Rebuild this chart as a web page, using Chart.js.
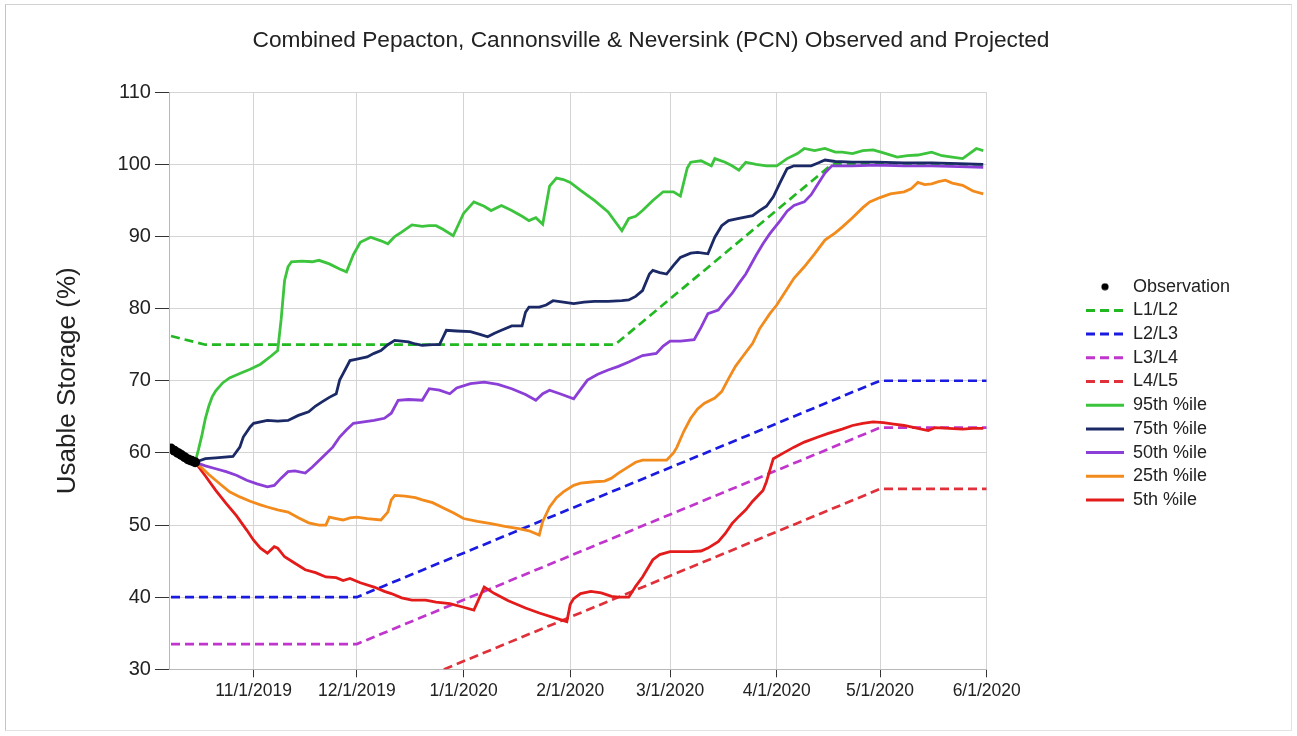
<!DOCTYPE html>
<html><head><meta charset="utf-8">
<style>
html,body{margin:0;padding:0;background:#fff;}
#wrap{position:relative;width:1297px;height:736px;overflow:hidden;}
#frame{position:absolute;left:5px;top:4px;width:1285px;height:725px;border:1px solid #e3e3e3;border-left-color:#c4c4c4;border-top-color:#d2d2d2;pointer-events:none;}
canvas{display:block;}
</style>
<script src="https://cdn.jsdelivr.net/npm/chart.js@4.4.1/dist/chart.umd.min.js"></script>
</head><body>
<div id="wrap"><canvas id="c" width="1297" height="736"></canvas><div id="frame"></div></div>
<script>
// Day numbers count from 10/1/2019 = day 0
const tickDays = [31, 61, 92, 123, 152, 183, 213, 244];
const tickLabels = ['11/1/2019','12/1/2019','1/1/2020','2/1/2020','3/1/2020','4/1/2020','5/1/2020','6/1/2020'];

const obsDays = [7, 8, 9, 10, 11, 12, 13, 14];
const obsVals = [60.6, 60.3, 60.0, 59.7, 59.4, 59.1, 58.9, 58.7];

const l1l2Days = [7, 17, 136, 199, 244];
const l1l2Vals = [76.2, 75.0, 75.0, 100.0, 100.0];
const l2l3Days = [7, 61, 213, 244];
const l2l3Vals = [40.0, 40.0, 70.0, 70.0];
const l3l4Days = [7, 61, 213, 244];
const l3l4Vals = [33.5, 33.5, 63.5, 63.5];
const l4l5Days = [7, 61, 213, 244];
const l4l5Vals = [25.0, 25.0, 55.0, 55.0];

const p95Days = [14,15,16,17,18,19,20,22,24,27,30,33,36,38,39,40,41,42,45,48,50,53,56,58,60,62,65,68,70,72,74,77,80,82,84,86,89,92,95,98,100,103,106,109,111,113,115,117,119,121,123,126,130,134,138,140,142,144,147,150,153,155,157,158,161,164,165,168,170,172,174,177,180,183,186,189,191,194,197,200,202,205,208,211,214,218,221,224,228,231,234,237,239,241,243];
const p95Vals = [58.7,60.5,62.5,64.8,66.5,67.8,68.6,69.7,70.4,71.0,71.6,72.3,73.4,74.2,78.5,83.9,85.8,86.5,86.6,86.5,86.7,86.2,85.5,85.1,87.5,89.2,89.9,89.4,89.0,90.0,90.6,91.6,91.4,91.5,91.5,91.0,90.1,93.2,94.8,94.2,93.6,94.3,93.6,92.8,92.2,92.6,91.7,97.0,98.1,97.9,97.5,96.4,95.0,93.4,90.8,92.5,92.8,93.6,95.0,96.2,96.2,95.6,99.5,100.3,100.5,99.8,100.8,100.3,99.8,99.2,100.3,100.0,99.8,99.8,100.8,101.5,102.2,101.9,102.2,101.7,101.7,101.5,101.9,102.0,101.6,101.0,101.2,101.3,101.7,101.2,101.0,100.8,101.5,102.2,101.9];

const p75Days = [14,17,20,25,27,28,30,31,35,38,41,44,47,49,51,53,55,56,57,59,61,64,66,68,70,72,74,76,78,80,83,85,86,87,90,94,97,99,101,103,106,109,110,111,114,116,118,121,124,127,130,134,138,140,142,144,146,147,149,151,153,155,158,160,163,165,167,169,172,176,178,180,182,184,186,188,191,193,195,197,200,205,212,220,228,236,243];
const p75Vals = [58.7,59.2,59.3,59.5,60.8,62.2,63.6,64.1,64.5,64.4,64.5,65.2,65.7,66.5,67.1,67.7,68.2,70.1,71.0,72.8,73.0,73.3,73.8,74.2,75.0,75.6,75.5,75.4,75.1,74.9,75.0,75.0,76.0,77.0,76.9,76.8,76.4,76.1,76.6,77.0,77.6,77.6,79.5,80.2,80.2,80.5,81.1,80.9,80.7,80.9,81.0,81.0,81.1,81.2,81.7,82.5,84.8,85.3,85.0,84.8,86.0,87.1,87.7,87.8,87.6,89.9,91.5,92.2,92.5,92.9,93.6,94.2,95.5,97.5,99.4,99.8,99.8,99.8,100.2,100.6,100.4,100.3,100.3,100.2,100.2,100.1,100.0];

const p50Days = [14,17,20,23,26,29,32,35,37,39,41,43,46,48,51,54,56,58,60,63,66,69,71,73,76,80,82,85,88,90,94,98,102,106,110,113,115,117,120,124,126,128,131,134,137,140,144,148,150,152,155,159,161,163,166,168,170,172,174,177,179,181,184,186,188,191,193,195,197,199,205,212,220,228,236,243];
const p50Vals = [58.7,58.2,57.8,57.4,56.9,56.2,55.7,55.3,55.5,56.5,57.4,57.5,57.2,58.0,59.4,60.8,62.2,63.2,64.1,64.3,64.5,64.8,65.5,67.3,67.4,67.3,68.9,68.7,68.2,69.0,69.6,69.8,69.5,68.9,68.1,67.3,68.2,68.7,68.2,67.5,68.8,70.1,70.9,71.5,72.0,72.6,73.5,73.8,74.8,75.5,75.5,75.7,77.4,79.3,79.8,81.0,82.1,83.5,84.8,87.4,89.0,90.4,92.2,93.5,94.3,94.8,95.8,97.3,98.8,99.8,99.8,99.9,99.8,99.8,99.7,99.6];

const p25Days = [14,16,18,21,24,27,30,33,35,38,41,44,47,50,52,53,55,57,59,61,64,68,70,71,72,75,78,80,83,86,89,92,96,100,104,108,111,114,115,117,119,121,124,126,130,133,135,137,140,142,144,148,151,153,154,156,158,160,162,165,167,169,171,173,176,178,181,183,185,188,191,194,197,200,202,205,208,210,213,216,220,222,224,226,228,230,232,234,237,240,243];
const p25Vals = [58.7,57.9,57.0,55.8,54.6,53.9,53.3,52.8,52.5,52.1,51.8,51.0,50.3,50.0,50.0,51.1,50.9,50.7,51.0,51.1,50.9,50.7,51.8,53.5,54.1,54.0,53.8,53.5,53.1,52.4,51.7,50.9,50.5,50.2,49.8,49.5,49.2,48.6,50.5,52.5,53.8,54.6,55.5,55.8,56.0,56.1,56.5,57.2,58.1,58.7,59.0,59.0,59.0,60.0,60.8,63.0,64.8,66.1,66.9,67.6,68.5,70.3,72.0,73.3,75.2,77.2,79.3,80.5,82.0,84.2,85.8,87.6,89.5,90.5,91.3,92.6,94.0,94.8,95.4,95.9,96.2,96.6,97.5,97.2,97.3,97.6,97.8,97.4,97.1,96.3,95.9];

const p5Days = [14,17,20,23,26,29,31,33,35,37,38,40,43,46,49,52,55,57,59,62,66,69,71,74,77,81,84,88,92,95,98,101,105,110,114,118,122,123,124,126,129,132,135,137,140,142,144,146,147,149,152,155,158,161,163,166,168,170,172,174,176,179,180,181,182,185,188,191,195,198,202,205,208,211,214,217,220,224,227,229,233,237,240,243];
const p5Vals = [58.7,56.8,54.8,53.0,51.3,49.3,47.9,46.8,46.1,47.0,46.8,45.6,44.7,43.8,43.4,42.8,42.7,42.3,42.6,42.0,41.4,40.8,40.5,39.9,39.6,39.6,39.3,39.1,38.6,38.2,41.4,40.5,39.5,38.5,37.8,37.2,36.6,39.0,39.8,40.5,40.8,40.6,40.1,40.0,40.0,41.5,42.8,44.4,45.2,45.9,46.3,46.3,46.3,46.4,46.8,47.7,48.8,50.2,51.2,52.1,53.3,54.8,56.0,57.6,59.2,60.0,60.8,61.5,62.2,62.7,63.3,63.8,64.1,64.3,64.2,64.0,63.8,63.4,63.1,63.5,63.4,63.3,63.4,63.4];

const FONT = "'Liberation Sans', Arial, sans-serif";
const pts = (d, v) => d.map((x, i) => ({x: x, y: v[i]}));

// small dot image for the Observation legend marker
const dot = document.createElement('canvas');
dot.width = 8; dot.height = 8;
(function(){ const g = dot.getContext('2d'); g.fillStyle = '#000'; g.beginPath(); g.arc(4, 4, 3.6, 0, Math.PI * 2); g.fill(); })();

function solid(label, d, v, color) {
  return {label, data: pts(d, v), borderColor: color, backgroundColor: color, borderWidth: 2.8,
    pointRadius: 0, pointHoverRadius: 0, tension: 0, fill: false, order: 1};
}
function dashed(label, d, v, color) {
  return {label, data: pts(d, v), borderColor: color, backgroundColor: color, borderWidth: 2.7,
    borderDash: [9, 5], pointRadius: 0, pointHoverRadius: 0, tension: 0, fill: false, order: 2};
}

const datasets = [
  {label: 'Observation', data: pts(obsDays, obsVals), showLine: false, borderColor: '#000', backgroundColor: '#000',
   pointRadius: 5, pointBorderWidth: 0, pointBackgroundColor: '#000', order: 0},
  dashed('L1/L2', l1l2Days, l1l2Vals, '#22b822'),
  dashed('L2/L3', l2l3Days, l2l3Vals, '#1a1ae0'),
  dashed('L3/L4', l3l4Days, l3l4Vals, '#c035cc'),
  dashed('L4/L5', l4l5Days, l4l5Vals, '#e0303a'),
  solid('95th %ile', p95Days, p95Vals, '#3cc43c'),
  solid('75th %ile', p75Days, p75Vals, '#1b2a66'),
  solid('50th %ile', p50Days, p50Vals, '#8b3fd6'),
  solid('25th %ile', p25Days, p25Vals, '#f28a1c'),
  solid('5th %ile', p5Days, p5Vals, '#e41b1b')
];

const LEGEND_LEFT = 1086, LEGEND_FIRST_Y = 286.7;
const blockPlacer = {
  id: 'blockPlacer',
  afterLayout(chart) {
    const lg = chart.legend;
    const pad = lg.options.labels.padding;
    const fs = lg.options.labels.font.size;
    const left = LEGEND_LEFT - pad;
    const top = LEGEND_FIRST_Y - pad - fs / 2;
    lg.left = left; lg.width = 200; lg.right = left + 200;
    lg.top = top; lg.bottom = top + lg.height;
    const t = chart.titleBlock;
    if (t) { t.left = 5; t.right = chart.width; t.width = t.right - t.left; }
  }
};

new Chart(document.getElementById('c'), {
  type: 'line',
  data: {datasets},
  plugins: [blockPlacer],
  options: {
    responsive: false,
    devicePixelRatio: 1,
    animation: false,
    events: [],
    layout: {padding: {left: 42, right: 210.3, top: 0, bottom: 31.7}},
    plugins: {
      title: {display: true, text: 'Combined Pepacton, Cannonsville & Neversink (PCN) Observed and Projected',
        color: '#222', font: {family: FONT, size: 22.7, weight: 'normal'}, padding: {top: 27.5, bottom: 37.5}},
      legend: {
        position: 'right', align: 'start', maxWidth: 100,
        labels: {
          usePointStyle: true, pointStyleWidth: 38, padding: 5.7, color: '#222',
          font: {family: FONT, size: 18},
          generateLabels: (chart) => chart.data.datasets.map((ds, i) => ({
            text: ds.label,
            fillStyle: ds.borderColor,
            strokeStyle: ds.borderColor,
            lineWidth: 3,
            lineDash: ds.borderDash || [],
            pointStyle: i === 0 ? dot : 'line',
            hidden: false,
            datasetIndex: i,
            fontColor: '#222'
          }))
        }
      },
      tooltip: {enabled: false}
    },
    scales: {
      x: {
        type: 'linear', min: 6.7, max: 244,
        afterBuildTicks: (s) => { s.ticks = tickDays.map(v => ({value: v})); },
        ticks: {autoSkip: false, maxRotation: 0, padding: 3, color: '#222', font: {family: FONT, size: 17.5},
          callback: (v) => { const i = tickDays.indexOf(v); return i >= 0 ? tickLabels[i] : ''; }},
        grid: {color: '#d4d4d4', tickLength: 8, tickColor: '#333'},
        border: {color: '#b8b8b8'}
      },
      y: {
        min: 30, max: 110,
        ticks: {stepSize: 10, padding: 4, color: '#222', font: {family: FONT, size: 20}},
        grid: {color: '#d4d4d4', tickLength: 15, tickColor: '#333'},
        border: {color: '#b8b8b8'},
        title: {display: true, text: 'Usable Storage (%)', color: '#222', font: {family: FONT, size: 26},
          padding: {top: 9.9, bottom: 30.5}}
      }
    }
  }
});
</script>
</body></html>
